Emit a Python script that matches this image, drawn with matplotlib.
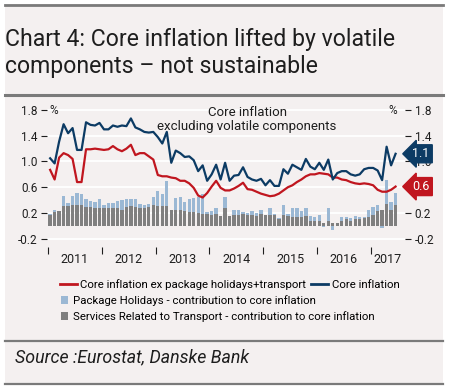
import numpy as np
import pandas as pd
import matplotlib
matplotlib.use('Agg')
import matplotlib.pyplot as plt
import matplotlib.transforms as mtransforms
from matplotlib.lines import Line2D
from matplotlib.patches import Patch, Rectangle

plt.rcParams.update({'font.family': ['Roboto', 'DejaVu Sans'], 'font.size': 8})

# --- colours ---
BG = '#f4f0f0'
RED = '#c0161f'
NAVY = '#0c3b64'
LIGHT_BLUE = '#9bb8d4'
GREY = '#7f7f7f'
RULE = '#7a7a7a'
TXT = '#1e1e1e'

# --- data (monthly, Jan 2011 - Jun 2017, % y/y) ---
START = '2011-01'
years = ['2011', '2012', '2013', '2014', '2015', '2016', '2017']

core = [1.05, 0.97, 1.31, 1.58, 1.44, 1.52, 1.18, 1.18, 1.61, 1.57, 1.56, 1.60,
        1.50, 1.50, 1.56, 1.54, 1.56, 1.55, 1.67, 1.53, 1.50, 1.46, 1.45, 1.46,
        1.38, 1.28, 1.46, 0.98, 1.17, 1.13, 1.07, 1.08, 1.02, 0.85, 0.94, 0.70,
        0.80, 0.95, 0.72, 0.98, 0.70, 0.78, 0.79, 0.91, 0.76, 0.72, 0.70, 0.73,
        0.63, 0.71, 0.62, 0.62, 0.88, 0.81, 0.95, 0.91, 0.87, 1.04, 0.92, 0.88,
        0.98, 0.87, 1.03, 0.72, 0.82, 0.85, 0.85, 0.80, 0.78, 0.80, 0.88, 0.90,
        0.90, 0.86, 0.71, 1.23, 0.94, 1.12]

core_ex = [0.87, 0.72, 1.06, 1.13, 1.10, 1.04, 0.68, 0.68, 1.19, 1.19, 1.20, 1.19,
           1.18, 1.19, 1.24, 1.19, 1.16, 1.20, 1.26, 1.10, 1.13, 1.13, 1.08, 1.03,
           0.79, 0.77, 0.77, 0.75, 0.74, 0.70, 0.70, 0.66, 0.59, 0.47, 0.44, 0.51,
           0.61, 0.70, 0.59, 0.55, 0.55, 0.58, 0.62, 0.67, 0.57, 0.56, 0.53, 0.50,
           0.48, 0.46, 0.47, 0.50, 0.55, 0.60, 0.63, 0.68, 0.72, 0.77, 0.80, 0.80,
           0.82, 0.81, 0.80, 0.75, 0.75, 0.72, 0.71, 0.68, 0.66, 0.65, 0.66, 0.65,
           0.63, 0.56, 0.53, 0.53, 0.56, 0.61]

transport = [0.16, 0.21, 0.23, 0.31, 0.30, 0.32, 0.33, 0.33, 0.29, 0.29, 0.28, 0.28,
             0.27, 0.28, 0.28, 0.28, 0.25, 0.29, 0.30, 0.29, 0.28, 0.27, 0.29, 0.32,
             0.31, 0.30, 0.30, 0.24, 0.25, 0.25, 0.23, 0.22, 0.22, 0.20, 0.19, 0.19,
             0.17, 0.19, 0.15, 0.27, 0.15, 0.17, 0.17, 0.18, 0.17, 0.17, 0.15, 0.18,
             0.17, 0.17, 0.17, 0.10, 0.17, 0.15, 0.14, 0.14, 0.14, 0.15, 0.08, 0.08,
             0.08, 0.04, 0.07, 0.04, 0.05, 0.08, 0.10, 0.08, 0.10, 0.10, 0.12, 0.13,
             0.17, 0.23, 0.25, 0.34, 0.24, 0.32]

package = [0.02, 0.03, 0.00, 0.16, 0.05, 0.14, 0.18, 0.17, 0.13, 0.09, 0.09, 0.13,
           0.05, 0.07, 0.07, 0.10, 0.15, 0.12, 0.12, 0.13, 0.06, 0.05, 0.05, 0.13,
           0.23, 0.20, 0.40, 0.00, 0.18, 0.19, 0.14, 0.20, 0.21, 0.24, 0.31, 0.03,
           0.06, 0.08, 0.00, 0.17, 0.00, 0.07, 0.07, 0.04, 0.03, 0.06, 0.05, 0.07,
           0.00, 0.10, 0.02, 0.02, 0.16, 0.03, 0.13, 0.13, 0.09, 0.12, 0.07, 0.05,
           0.09, -0.02, 0.21, -0.06, 0.00, 0.05, 0.03, 0.04, 0.05, 0.03, 0.01, 0.11,
           0.12, 0.10, -0.04, 0.37, 0.13, 0.19]


def main():
    months = pd.period_range(START, periods=len(core), freq='M')
    x = np.arange(len(months))
    trans = np.array(transport)
    pack = np.array(package)

    W, H = 450, 392
    fig = plt.figure(figsize=(W / 100, H / 100), dpi=100)
    fig.patch.set_facecolor('white')

    # pale panel + horizontal rules
    fig.add_artist(Rectangle((5 / W, 1 - 384 / H), 438 / W, 380 / H,
                             transform=fig.transFigure, fc=BG, ec='none', zorder=0))
    for ypx, lw in [(4.5, 2.0), (95, 2.2), (341, 1.6), (384, 1.6)]:
        fig.add_artist(Line2D([5 / W, 443 / W], [1 - ypx / H] * 2,
                              transform=fig.transFigure, color=RULE, lw=lw))

    fig.text(5 / W, 1 - 46 / H, 'Chart 4: Core inflation lifted by volatile',
             fontsize=16.6, color=TXT, va='baseline')
    fig.text(5 / W, 1 - 73 / H, 'components \u2013 not sustainable',
             fontsize=16.6, color=TXT, va='baseline')
    fig.text(15 / W, 1 - 362 / H, 'Source :Eurostat, Danske Bank',
             fontsize=12.8, style='italic', color=TXT, va='baseline')

    ax = fig.add_axes([47 / W, 1 - 247 / H, 358 / W, 144 / H])
    ax.set_facecolor(BG)
    for s in ax.spines.values():
        s.set_visible(False)

    ax.bar(x, trans, width=0.74, color=GREY, zorder=2)
    ax.bar(x, pack, width=0.74, bottom=np.where(pack >= 0, trans, 0),
           color=LIGHT_BLUE, zorder=2)
    ax.plot(x, core_ex, color=RED, lw=1.6, zorder=3)
    ax.plot(x, core, color=NAVY, lw=1.6, zorder=3)

    ax.set_xlim(-0.7, 79.1)
    ax.set_ylim(-0.33, 1.91)

    yt = [-0.2, 0.2, 0.6, 1.0, 1.4, 1.8]
    ax.set_yticks(yt)
    ax.set_yticklabels([f'{v:.1f}' for v in yt])
    ax.yaxis.grid(True, color='white', lw=1.3)
    ax.set_axisbelow(True)
    ax.tick_params(axis='y', left=True, right=True, labelleft=True, labelright=True,
                   length=4, width=0.8, color=TXT, pad=3, labelsize=8.5, labelcolor=TXT)
    # the red end tag sits over the right-hand 0.6 label, as in the original
    right_labels = [t.label2 for t in ax.yaxis.get_major_ticks()]
    for v, lab in zip(yt, right_labels):
        if abs(v - round(core_ex[-1], 1)) < 1e-9:
            lab.set_visible(False)

    # year boundaries as ticks, year names centred between them
    bounds = [i - 0.5 for i, m in enumerate(months) if m.month == 1]
    edges = bounds + [ax.get_xlim()[1]]
    centres = [(a + b) / 2 for a, b in zip(edges[:-1], edges[1:])]
    ax.set_xticks(bounds)
    ax.set_xticklabels([])
    ax.set_xticks(centres, minor=True)
    ax.set_xticklabels(years, minor=True)
    ax.tick_params(axis='x', which='major', length=5, width=0.8, color=TXT)
    ax.tick_params(axis='x', which='minor', length=0, pad=4, labelsize=9, labelcolor=TXT)

    ax.text(0.7, 1.8, '%', ha='center', va='center', fontsize=8.5, color=TXT)
    ax.text(76.4, 1.8, '%', ha='center', va='center', fontsize=8.5, color=TXT)
    ax.text(43.9, 1.77, 'Core inflation', ha='center', va='center', fontsize=9.5, color=TXT)
    ax.text(43.9, 1.55, 'excluding volatile components', ha='center', va='center',
            fontsize=9.5, color=TXT)

    # end-value tags
    tr = mtransforms.blended_transform_factory(ax.transAxes, ax.transData)
    for series, col in [(core, NAVY), (core_ex, RED)]:
        ax.text(1.045, series[-1], f'{series[-1]:.1f}', transform=tr, ha='center',
                va='center', fontsize=9, color='white', zorder=6, clip_on=False,
                bbox=dict(boxstyle='larrow,pad=0.2', fc=col, ec=col))

    line_handles = [Line2D([], [], color=RED, lw=2), Line2D([], [], color=NAVY, lw=2)]
    fig.legend(line_handles,
               ['Core inflation ex package holidays+transport', 'Core inflation'],
               loc='center left', bbox_to_anchor=(60 / W, 1 - 285 / H), ncol=2,
               frameon=False, fontsize=8.2, handlelength=1.5, handletextpad=0.3,
               columnspacing=0.4, borderpad=0, borderaxespad=0)
    patch_handles = [Patch(fc=LIGHT_BLUE, ec='none'), Patch(fc=GREY, ec='none')]
    fig.legend(patch_handles,
               ['Package Holidays - contribution to core inflation',
                'Services Related to Transport - contribution to core inflation'],
               loc='upper left', bbox_to_anchor=(61 / W, 1 - 295 / H), ncol=1,
               frameon=False, fontsize=8.2, handlelength=0.65, handleheight=0.65,
               handletextpad=0.4, labelspacing=0.45, borderpad=0, borderaxespad=0)

    fig.savefig('out.png', dpi=100, facecolor=fig.get_facecolor())


if __name__ == '__main__':
    main()
